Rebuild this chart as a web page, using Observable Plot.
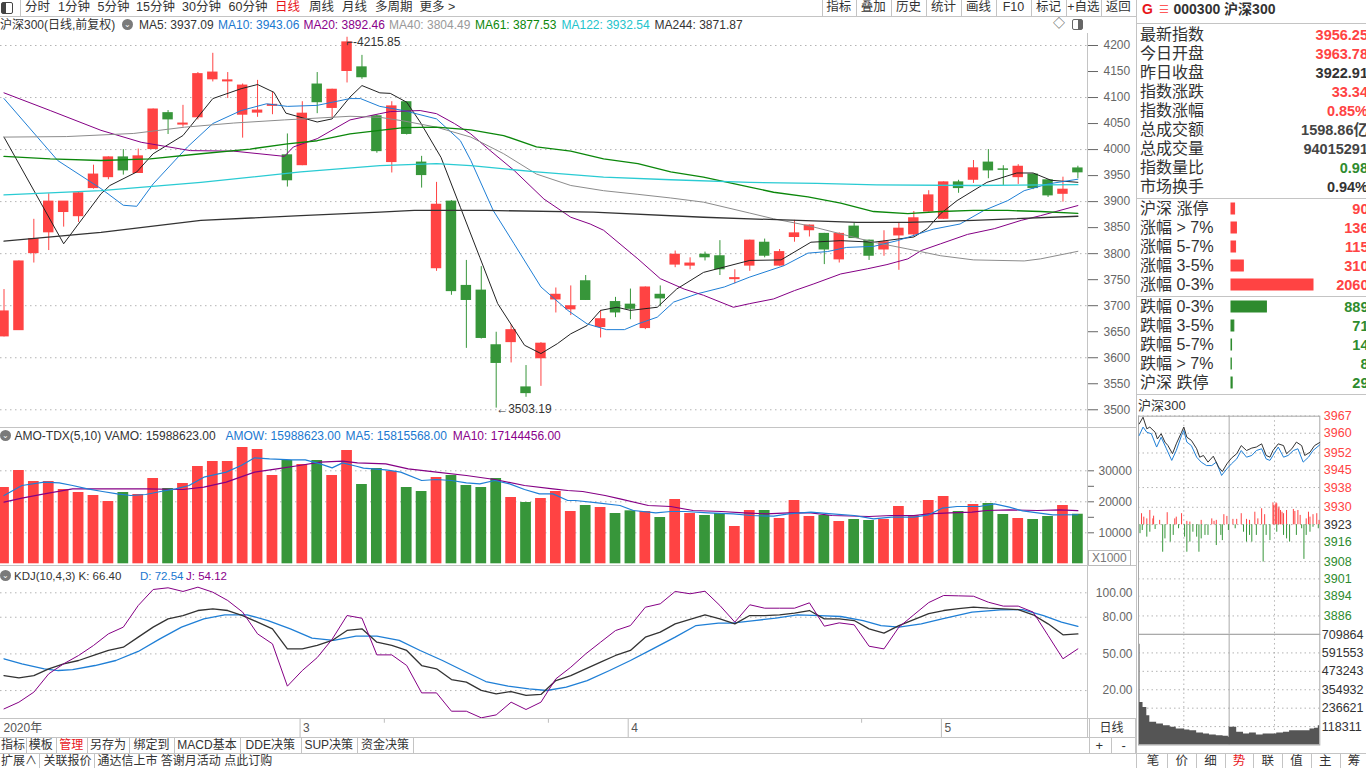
<!DOCTYPE html>
<html lang="zh-CN">
<head>
<meta charset="utf-8">
<title>沪深300 日线</title>
<script src="https://cdn.jsdelivr.net/npm/d3@7"></script>
<script src="https://cdn.jsdelivr.net/npm/@observablehq/plot@0.6"></script>
<style>
html,body{margin:0;padding:0;background:#fff;}
body{position:relative;width:1366px;height:768px;overflow:hidden;font-family:"Liberation Sans","Noto Sans CJK SC",Arial,sans-serif;color:#333;}
.t{position:absolute;white-space:nowrap;}
.ln{position:absolute;background:#c4c4c4;}
.pl{position:absolute;}
.pl svg{max-width:none !important;display:block;}
.ic{position:absolute;width:11px;height:11px;border-radius:50%;background:#7a7a7a;color:#fff;font-size:8px;line-height:11px;text-align:center;}
</style>
</head>
<body>
<script>
// ================= DATA =================
// daily candles, 2020-02-03 .. 2020-05-19 (index 0..72)
const open  = [3641,3653,3801,3841,3880,3872,3926,3947,3985,3955, 4001,4070,4048,4062,4135,4131,4067,4071,4084,3989, 3970,4125,4080,4151,4158,4064,3976,4091,3975,3772, 3900,3738,3729,3624,3630,3543,3599,3712,3693,3747, 3659,3707,3702,3657,3721,3779,3777,3798,3795,3751, 3777,3821,3777,3832,3845,3838,3789,3852,3825,3808, 3835,3837,3881,3867,3937,3942,3975,3962,3947,3952, 3941,3915,3963.78];
const close = [3689,3785,3828,3900,3900,3916,3952,3985,3960,3987, 4077,4058,4050,4145,4148,4133,4123,4075,4086,3941, 4069,4091,4115,4206,4139,3997,4083,4030,3951,3894, 3728,3711,3638,3590,3653,3532,3627,3721,3699,3711, 3674,3687,3694,3735,3714,3798,3781,3793,3770,3753, 3825,3796,3803,3839,3854,3808,3838,3830,3796,3822, 3848,3868,3912,3937,3926,3964,3960,3961,3967,3926, 3912,3922.91,3956.25];
const high  = [3731,3786,3866,3915,3900,3919,3970,3986,4000,4001, 4078,4075,4085,4148,4185,4148,4126,4133,4110,4030, 4092,4148,4116,4215.85,4181,4066,4092,4092,3987,3937, 3902,3787,3775,3649,3663,3585,3629,3734,3738,3758, 3691,3716,3732,3736,3738,3805,3792,3803,3825,3769, 3826,3828,3808,3864,3855,3839,3840,3859,3826,3844, 3860,3881,3921,3938,3941,3979,4000,3969,3971,3953, 3942,3947,3968];
const low   = [3640,3653,3782,3806,3851,3860,3924,3942,3951,3955, 4000,4029,4043,4057,4130,4098,4022,4062,4067,3928, 3969,4069,4060,4128,4135,3993,3955,4028,3926,3766, 3720,3618,3636,3503.19,3590,3524,3545,3686,3681,3710, 3638,3677,3673,3654,3698,3773,3769,3786,3758,3742, 3766,3792,3776,3822,3832,3779,3782,3829,3787,3795, 3768,3832,3880,3866,3916,3935,3944,3931,3933,3923, 3908,3899,3944];
// turnover (AMO, x1000)
const amount = [24613,30097,26548,26548,23968,23000,22032,20097,23000,22355, 27516,24290,25903,31387,33000,33000,37516,36871,28484,33323, 32032,33323,28484,36548,25581,30742,29774,24613,23323,27839, 28484,25258,24613,27516,21387,19774,21064,23323,16871,18806, 18161,16226,17086,16871,14935,20742,16226,15581,16226,12032, 17194,17194,14613,20419,15258,15581,13645,14290,13968,14290, 18484,15581,20419,21710,16871,19129,19452,15903,14613,14290, 15258,18806,15988.6];

// moving averages: [day index, value]
const ma5   = [[0,4024],[4,3819],[6.5,3915],[7.1,3931],[8.9,3957],[10,3992],[12,4027],[14,4098],[15.9,4117],[17,4125],[18.1,4110],[18.9,4070],[21,4053],[22,4059],[23.2,4101],[24,4123],[25.2,4109],[25.9,4108],[27,4091],[27.9,4053],[29.3,3985],[30.6,3889],[31.9,3793],[33.1,3704],[34.9,3624],[36,3608],[37.1,3627],[38,3646],[39.1,3662],[40,3691],[41.1,3697],[42,3691],[43.8,3697],[45.1,3732],[46.9,3764],[50,3787],[52.1,3788],[54.1,3822],[56.1,3825],[58.3,3822],[61,3832],[61.9,3848],[62.8,3877],[63.9,3902],[65.9,3937],[67.9,3955],[69,3955],[70.2,3941],[72,3937.09]];
const ma10  = [[0,4098],[3.6,3979],[6.5,3925],[8,3893],[8.9,3891],[10,3934],[12.3,4005],[14,4050],[15.9,4075],[17.6,4088],[19,4083],[21,4085],[23.2,4098],[23.9,4098],[25.2,4083],[26.8,4075],[29,4059],[30.6,4017],[31.3,3979],[32.8,3883],[34.2,3819],[36,3736],[37.8,3691],[39.1,3665],[40.4,3654],[41.6,3654],[42.5,3665],[43.8,3678],[44.9,3707],[46.5,3723],[48.3,3736],[50,3755],[52.3,3777],[53.9,3801],[55.2,3804],[56.5,3812],[58.3,3814],[59.9,3825],[62.3,3847],[64.1,3857],[65.7,3883],[67.3,3902],[68.4,3921],[70,3934],[72,3943.06]];
const ma20  = [[0,4109],[3.1,4075],[6.5,4037],[9.2,4014],[12.5,3998],[15.4,3997],[18.8,3987],[19.4,4005],[21,4021],[23.2,4057],[25.2,4069],[25.9,4073],[27.9,4075],[29,4069],[30.2,4050],[31.3,4030],[32.6,3998],[34.2,3960],[36.2,3905],[38,3870],[39.3,3857],[40.2,3845],[42.5,3790],[44,3752],[45.6,3732],[46.9,3720],[48.9,3697],[50,3704],[51.6,3713],[53,3729],[54.3,3742],[56.1,3761],[57.9,3771],[59.2,3779],[60.6,3790],[61.5,3806],[62.8,3819],[64.6,3837],[66.4,3848],[68.2,3864],[69.5,3873],[72,3892.46]];
const ma40  = [[0,4024],[4.2,4025],[8.7,4031],[12.1,4043],[15.4,4051],[18.8,4057],[23.2,4064],[25.2,4062],[26.8,4055],[29,4043],[31.3,4024],[33.5,3992],[35.7,3953],[38,3931],[40.2,3921],[42.5,3914],[44.7,3907],[46.9,3899],[50,3878],[51.6,3867],[53.9,3854],[56.1,3838],[58.3,3822],[60.6,3809],[62.8,3796],[65,3788],[68.4,3786],[69.5,3790],[72,3804.49]];
const ma61  = [[0,3987],[3.1,3982],[6.5,3979],[9.8,3982],[13.2,3992],[16.5,4001],[19,4011],[21,4017],[23.2,4030],[25.2,4037],[26.8,4042],[29,4043],[31.3,4038],[33.5,4027],[35.7,4005],[38,3997],[40.2,3982],[42.5,3973],[44.7,3957],[46.9,3947],[50,3928],[51.6,3918],[53.9,3909],[56.1,3897],[58.3,3881],[60.6,3877],[62.8,3881],[65,3883],[67.3,3883],[69.5,3881],[72,3877.53]];
const ma122 = [[0,3913],[6.5,3921],[13.2,3937],[19.9,3957],[25.2,3969],[29,3973],[31.3,3969],[35.7,3957],[40.2,3947],[44.7,3942],[50,3937],[54.5,3935],[58.5,3932],[65,3931],[72,3932.54]];
const ma244 = [[0,3824],[6.5,3841],[13.2,3864],[19.9,3873],[25.2,3880],[27.5,3883],[32.4,3883],[39.5,3880],[46.9,3870],[57.2,3860],[60.6,3860],[65,3864],[72,3871.87]];
const maNames = ["MA5","MA10","MA20","MA40","MA61","MA122","MA244"];
const maLast  = [3937.09,3943.06,3892.46,3804.49,3877.53,3932.54,3871.87];

// turnover averages: [day index, value]
const amoMa5  = [[0,22032],[1.2,25258],[2.7,26333],[3.7,26118],[4.6,25258],[5.6,24183],[6.6,23323],[7.6,22570],[8.5,22032],[9.5,22355],[10.5,23323],[11.5,24183],[12.4,25258],[13.4,27946],[14.9,29559],[15.9,31710],[16.8,34183],[17.8,33860],[19.3,33538],[20.2,33538],[21.2,32247],[22,30957],[22.7,32570],[23.7,31387],[24.1,30849],[25.6,30312],[26.6,29559],[28,26871],[29,27194],[30,26871],[31,26118],[31.9,25796],[32.9,26871],[33.9,25796],[34.9,23968],[35.9,22570],[36.8,22570],[37.8,20419],[38.3,20419],[39.8,19667],[41.3,18806],[42.2,17194],[43.7,16441],[44.7,16871],[45.7,16871],[47.2,16441],[48.9,16118],[50.1,15581],[51.6,15366],[52.6,16118],[54.1,16656],[55.5,16118],[57,15581],[58.3,14505],[59.5,15043],[61,15043],[62,15796],[62.9,17946],[63.9,18484],[65.4,18484],[66.4,19344],[67.4,18269],[68.3,17086],[69.3,16441],[70.3,15796],[72,15815.6]];
const amoMa10 = [[0,19882],[1.2,21172],[2.7,22570],[4.6,24183],[7.1,24183],[9.5,24183],[12,23968],[13.4,24720],[14.9,26333],[16.8,29559],[18.3,30634],[19.8,31710],[21.2,32785],[22.7,33108],[23.7,32570],[25.6,32247],[27.1,30634],[29,29559],[31,28484],[32.9,27194],[34.9,25258],[36.8,24183],[37.8,23645],[38.8,23323],[40.3,22032],[41.3,20957],[43.2,18806],[44.7,18484],[46.2,17194],[48.1,16871],[49.6,16441],[51.1,16118],[52.6,16441],[54.1,16441],[55.5,15581],[58,15258],[59.5,15581],[61,15581],[62,16118],[63.4,16441],[64.9,16656],[65.9,17194],[67.4,17409],[69.3,17194],[70.8,17409],[72,17144.5]];

// KDJ(10,4,3)
const kdjK = [32.3,30.4,32.3,37.8,41.9,44.6,48.7,52.8,55.5,63.7, 71.9,78.7,81.4,85.5,86.9,85.5,81.4,76.0,70.5,54.1, 54.1,57.0,61.0,69.2,70.5,59.6,56.9,52.8,40.5,37.8, 29.0,26.9,20.1,17.3,19.2,16.0,16.8,28.2,32.3,37.8, 43.2,48.7,52.8,63.7,67.8,74.6,78.2,82.0,78.7,74.6, 81.4,81.4,82.0,83.3,85.5,78.7,78.7,77.3,70.5,67.0, 73.2,78.0,83.0,85.5,87.0,88.2,87.4,86.9,86.3,82.0, 74.6,65.6,66.40];
const kdjJ = [5.0,10.5,18.7,33.7,41.9,48.7,56.9,66.4,71.9,89.6, 102.7,104.1,101.1,104.6,100.5,93.7,84.2,66.4,58.2,23.6, 36.4,47.0,62.0,81.4,79.2,49.2,49.2,40.5,18.1,18.1, 3.1,3.1,-2.3,0.1,10.5,4.5,10.5,29.6,39.1,50.0, 59.6,69.1,73.2,88.2,91.0,101.1,99.2,101.3,89.6,76.0, 90.2,87.4,87.4,87.4,91.8,72.7,75.4,73.8,56.3,54.1, 71.9,82.0,92.0,97.8,97.5,97.2,92.3,89.1,89.1,84.2, 65.1,46.0,54.12];
const kdjD = [[0,46.0],[1.2,41.9],[2.7,37.8],[3.65,36.4],[4.6,37.2],[6.1,40.5],[7.5,44.6],[9,52.0],[10.45,62.3],[11.9,71.9],[13.4,78.7],[14.8,82.0],[16.3,82.0],[17.7,77.3],[19.2,70.5],[20.65,62.9],[22.1,61.0],[23.6,64.5],[25,64.5],[26.5,61.0],[27.9,52.8],[29.4,44.6],[30.9,35.6],[32.3,27.4],[33.8,23.6],[35.2,21.4],[36.4,20.05],[37.7,22.8],[39.1,28.2],[40.6,36.4],[42,44.6],[43.5,54.1],[45,63.7],[46.4,73.2],[47.9,75.15],[48.8,75.15],[50.3,77.3],[51.75,79.2],[53.2,82.0],[54.7,81.4],[56.1,80.6],[57.6,77.3],[58.8,73.2],[60,71.9],[61.5,74.6],[62.9,78.7],[64.9,84.15],[66.8,86.1],[68.3,86.3],[69.7,81.4],[70.9,76.0],[72,72.54]];

// axis ticks
const priceTicks = [3500,3550,3600,3650,3700,3750,3800,3850,3900,3950,4000,4050,4100,4150,4200];
const priceGrid  = [3500,3600,3700,3800,3900,4000,4100,4200];
const amoTicks   = [10000,15000,20000,25000,30000];
const amoLabels  = [10000,20000,30000];
const kdjTicks   = [20,50,80,100];
const monthTickIndex = [0,20,42,63];
const monthTickLabel = ["2020年","3","4","5"];

// quote panel
const quoteLabels = ["最新指数","今日开盘","昨日收盘","指数涨跌","指数涨幅","总成交额","总成交量","指数量比","市场换手"];
const quoteValues = ["3956.25","3963.78","3922.91","33.34","0.85%","1598.86亿","94015291","0.98","0.94%"];
const upLabels   = ["沪深 涨停","涨幅 > 7%","涨幅 5-7%","涨幅 3-5%","涨幅 0-3%"];
const upCounts   = [90,136,115,310,2060];
const downLabels = ["跌幅 0-3%","跌幅 3-5%","跌幅 5-7%","跌幅 > 7%","沪深 跌停"];
const downCounts = [889,71,14,8,29];

// intraday (minutes 0..240)
const prevClose = 3922.91;
const idxMin   = [1,6,11,15,22,25,30,35,39,45,50,57,60,64,70,77,81,86,92,99,106,111,117,123,130,136,143,150,156,163,169,174,178,185,192,196,203,209,216,220,227,233,240];
const idxPrice = [3963.8,3966.5,3961.8,3962.5,3960.4,3957.7,3959.8,3956.4,3955.0,3951.7,3955.7,3960.4,3962.5,3958.4,3957.1,3953.7,3950.3,3951.0,3948.3,3950.7,3946.3,3944.5,3947.6,3949.9,3951.7,3955.0,3953.0,3954.0,3954.4,3955.7,3951.0,3950.3,3953.0,3955.7,3955.0,3951.7,3953.7,3956.4,3955.0,3951.0,3952.3,3955.0,3956.25];
const eqMin    = [1,6,11,17,24,30,37,44,50,57,60,64,70,77,83,90,97,103,110,117,123,130,136,143,150,156,163,169,174,178,185,192,198,205,211,218,225,231,240];
const eqPrice  = [3959.1,3962.5,3960.4,3959.8,3954.4,3958.4,3953.7,3949.0,3953.0,3959.1,3961.1,3956.4,3955.0,3950.3,3948.3,3946.9,3946.9,3948.3,3942.9,3945.6,3947.6,3949.6,3953.0,3950.3,3951.0,3953.0,3953.7,3949.6,3949.0,3951.0,3954.4,3950.3,3951.0,3953.0,3953.7,3948.3,3950.3,3953.0,3955.3];
const upMin   = [4,7,11,15,19,20,28,38,48,50,57,64,68,83,97,100,103,113,117,125,130,136,143,147,154,158,163,167,178,179,181,182,183,185,186,188,190,192,196,205,207,211,214,222,225,227,231,236,239];
const upVal   = [4.5,3.1,2.4,5.8,2.4,3.5,1.8,4.9,2.4,3.1,4.5,1.4,1.1,1.8,2.4,1.4,1.8,4.1,3.4,2.2,2.2,4.5,2.2,1.8,5.1,2.4,6.5,4.1,8.9,7.8,8.1,8.9,8.5,6.5,7.2,5.8,5.1,4.5,5.8,6.2,5.4,5.8,3.8,2.4,5.1,3.1,4.1,4.5,1.8];
const downMin = [2,5,11,15,22,32,35,42,46,53,61,64,68,72,77,80,83,88,92,103,109,111,119,128,139,143,147,150,156,165,169,174,183,192,196,200,209,216,219,222,227,231,238];
const downVal = [-3.6,-2.3,-5.0,-3.0,-1.9,-11.1,-5.7,-7.0,-4.3,-1.6,-5.0,-11.1,-7.0,-3.0,-5.0,-11.1,-5.7,-4.3,-4.3,-8.4,-4.3,-6.4,-2.3,-1.6,-3.0,-7.0,-4.3,-7.0,-4.3,-15.1,-4.3,-6.4,-3.0,-4.3,-5.7,-7.0,-4.3,-1.6,-14.0,-4.3,-3.0,-1.0,-1.6];
const volMin  = [1,2,6,11,15,24,33,42,50,59,61,68,77,86,94,103,112,119,120,130,139,147,156,165,174,183,192,200,209,218,227,233,238,240];
const volVal  = [647800,273700,241600,188100,145400,134700,124000,113300,102600,102600,96200,91900,77000,70600,64100,59900,55600,49200,113300,81200,70600,77000,64100,70600,70600,77000,81200,91900,91900,91900,102600,106900,124000,220200];
const miniPriceTicks = [3967,3960,3952,3945,3938,3930,3923,3916,3908,3901,3894,3886];
const miniVolTicks   = [709864,591553,473243,354932,236621,118311];

// ================= LAYOUT HELPERS =================
const RED = "#ff4343", GREEN = "#37963a", BLUE = "#1f7fd6", PURPLE = "#850085";
function T(x, y, s, o = {}) {
  const d = document.createElement("div");
  d.className = "t";
  d.textContent = s;
  const fs = o.fs || 12;
  const lh = o.lh || Math.round(fs * 1.3);
  let css = `top:${y - lh / 2}px;height:${lh}px;line-height:${lh}px;font-size:${fs}px;color:${o.c || "#333"};`;
  if (o.right) css += `right:${1366 - x}px;`;
  else if (o.center) css += `left:${x - 40}px;width:80px;text-align:center;`;
  else css += `left:${x}px;`;
  if (o.b) css += "font-weight:bold;";
  if (o.f) css += `font-family:${o.f};`;
  if (o.ls) css += `letter-spacing:${o.ls}px;`;
  d.style.cssText += css;
  document.body.append(d);
  return d;
}
function L(x, y, w, h, c) {
  const d = document.createElement("div");
  d.className = "ln";
  d.style.cssText = `left:${x}px;top:${y}px;width:${w}px;height:${h}px;` + (c ? `background:${c};` : "");
  document.body.append(d);
}
function mount(svg, left, top) {
  const d = document.createElement("div");
  d.className = "pl";
  d.style.left = left + "px";
  d.style.top = top + "px";
  d.append(svg);
  document.body.append(d);
}
function icon(x, y) {
  const d = document.createElement("div");
  d.className = "ic";
  d.style.left = x + "px";
  d.style.top = (y - 5.5) + "px";
  d.textContent = "⌄";
  document.body.append(d);
}
const baseStyle = {background: "transparent", color: "#666", fontSize: "12px", fontFamily: "Liberation Sans, Arial, sans-serif", overflow: "visible"};
const grid = {stroke: "#b4b4b4", strokeOpacity: 1, strokeDasharray: "1.5,3.5"};

// ================= DERIVED TABLES =================
const candles = open.map((o, i) => ({i, o, c: close[i], h: high[i], l: low[i], v: amount[i]}));
const col = d => d.c >= d.o ? RED : GREEN;
const xDomain = [-0.2347, 72.645];
const W = 1136, MR = 49;

// ================= MAIN CANDLE CHART =================
const maColors = ["#222", BLUE, PURPLE, "#8c8c8c", "#0b870b", "#2acbd3", "#333"];
const maData = [ma5, ma10, ma20, ma40, ma61, ma122, ma244];
const mainPlot = Plot.plot({
  width: W, height: 394, marginLeft: 0, marginRight: MR, marginTop: 0, marginBottom: 0,
  x: {domain: xDomain, axis: null},
  y: {domain: [3465.95, 4223.06], axis: null},
  style: baseStyle,
  marks: [
    Plot.ruleY(priceGrid, grid),
    Plot.axisY(priceTicks, {anchor: "right", label: null, tickSize: 10, tickPadding: 6, tickFormat: d => String(d), fontSize: 12}),
    Plot.ruleX(candles, {x: "i", y1: "l", y2: "h", stroke: col, strokeWidth: 1}),
    Plot.rect(candles, {x1: d => d.i - 0.35, x2: d => d.i + 0.35, y1: "o", y2: "c", fill: col, insetTop: -0.5, insetBottom: -0.5}),
    ...maData.map((s, k) => Plot.line(s, {x: d => d[0], y: d => d[1], stroke: maColors[k], strokeWidth: k >= 4 ? 1.3 : 1})),
    Plot.text([{i: 23, p: high[23]}], {x: "i", y: "p", text: d => "⌐-" + d.p.toFixed(2), textAnchor: "start", dx: -1, dy: 5, fill: "#333", fontSize: 12}),
    Plot.text([{i: 33, p: low[33]}], {x: "i", y: "p", text: d => "←" + d.p.toFixed(2), textAnchor: "start", dx: 0, dy: 1, fill: "#333", fontSize: 12})
  ]
});
mount(mainPlot, 0, 33);

// ================= TURNOVER PANEL =================
const amoPlot = Plot.plot({
  width: W, height: 138, marginLeft: 0, marginRight: MR, marginTop: 0, marginBottom: 0,
  x: {domain: xDomain, axis: null},
  y: {domain: [-548, 43968], axis: null},
  style: baseStyle,
  marks: [
    Plot.ruleY(amoLabels, grid),
    Plot.axisY(amoTicks, {anchor: "right", label: null, tickSize: 6, tickPadding: 5, tickFormat: d => amoLabels.includes(d) ? String(d) : "", fontSize: 12}),
    Plot.rect(candles, {x1: d => d.i - 0.36, x2: d => d.i + 0.36, y1: 0, y2: "v", fill: col}),
    Plot.line(amoMa10, {x: d => d[0], y: d => d[1], stroke: PURPLE, strokeWidth: 1.2}),
    Plot.line(amoMa5, {x: d => d[0], y: d => d[1], stroke: BLUE, strokeWidth: 1.2})
  ]
});
mount(amoPlot, 0, 427);

// ================= KDJ PANEL =================
const kdjPlot = Plot.plot({
  width: W, height: 153, marginLeft: 0, marginRight: MR, marginTop: 0, marginBottom: 0,
  x: {domain: xDomain, axis: null},
  y: {domain: [-2.86, 122.34], axis: null},
  style: baseStyle,
  marks: [
    Plot.ruleY(kdjTicks, grid),
    Plot.axisY(kdjTicks, {anchor: "right", label: null, tickSize: 0, tickPadding: 45, textAnchor: "end", tickFormat: d => d.toFixed(2), fontSize: 12}),
    Plot.line(kdjD, {x: d => d[0], y: d => d[1], stroke: BLUE, strokeWidth: 1.3}),
    Plot.line(kdjK, {x: (d, i) => i, y: d => d, stroke: "#333", strokeWidth: 1.3}),
    Plot.line(kdjJ, {x: (d, i) => i, y: d => d, stroke: PURPLE, strokeWidth: 1})
  ]
});
mount(kdjPlot, 0, 565);

// ================= DATE ROW =================
const monthRows = monthTickIndex.map((i, k) => ({i, t: monthTickLabel[k]}));
const datePlot = Plot.plot({
  width: W, height: 19, marginLeft: 0, marginRight: MR, marginTop: 0, marginBottom: 0,
  x: {domain: xDomain, axis: null},
  y: {domain: [0, 1], axis: null},
  style: baseStyle,
  marks: [
    Plot.ruleX(monthRows.slice(1), {x: d => d.i - 0.15, stroke: "#bdbdbd"}),
    Plot.ruleX([25.5, 36.5, 57.5], {x: d => d, y1: 0.75, y2: 1, stroke: "#bdbdbd"}),
    Plot.text(monthRows, {x: d => d.i === 0 ? xDomain[0] : d.i - 0.15, y: 0.5, text: "t", textAnchor: "start", dx: 3, fill: "#555", fontSize: 12, fontFamily: "Liberation Sans, Noto Sans CJK SC, sans-serif"})
  ]
});
mount(datePlot, 0, 718);

// ================= FRAME LINES =================
L(0, 16, 1136, 1);
L(0, 427, 1136, 1);
L(0, 565, 1136, 1);
L(0, 718, 1136, 1);
L(0, 737, 1136, 1);
L(0, 753, 1366, 1);
L(1087, 33, 1, 704);
L(1136, 0, 1, 768);

// ================= TOP TOOLBAR =================
(function () {
  const box = document.createElement("div");
  box.style.cssText = "position:absolute;left:1px;top:2px;width:10px;height:10px;border:1px solid #444;border-radius:2px;";
  const fill = document.createElement("div");
  fill.style.cssText = "position:absolute;left:0;top:0;width:4px;height:10px;background:#444;";
  box.append(fill);
  document.body.append(box);
})();
L(19.5, 0, 1, 16);
[["分时", 25], ["1分钟", 58], ["5分钟", 97.5], ["15分钟", 136], ["30分钟", 182], ["60分钟", 228.5], ["日线", 275], ["周线", 309], ["月线", 342], ["多周期", 375], ["更多 >", 419.5]]
  .forEach(([s, x]) => T(x, 7.5, s, {fs: 12.5, lh: 15, c: s === "日线" ? "#e8151b" : "#333"}));
const btnEdges = [822, 855.7, 891, 925.8, 961, 996, 1031, 1066, 1100.7, 1136];
["指标", "叠加", "历史", "统计", "画线", "F10", "标记", "+自选", "返回"].forEach((s, k) => {
  const d = T((btnEdges[k] + btnEdges[k + 1]) / 2, 7.5, s, {fs: 12.5, lh: 15, center: true});
  d.style.left = (btnEdges[k] + 1) + "px";
  d.style.width = (btnEdges[k + 1] - btnEdges[k] - 2) + "px";
  L(btnEdges[k], 0, 1, 16);
});

// ================= INDICATOR HEADERS =================
T(0, 24.5, "沪深300(日线,前复权)", {fs: 12, lh: 14});
icon(122, 24.5);
const maX = [139, 218, 303.5, 389, 475, 561.5, 654.5];
const maTextColors = ["#333", "#1a78d0", "#8a008a", "#999", "#0b870b", "#22c3cc", "#333"];
maNames.forEach((n, k) => T(maX[k], 24.5, `${n}: ${maLast[k].toFixed(2)}`, {lh: 14, c: maTextColors[k]}));
T(1053, 24, "◇", {fs: 12, lh: 14, c: "#555"});
(function () {
  const b = document.createElement("div");
  b.style.cssText = "position:absolute;left:1072px;top:19px;width:9px;height:9px;border:1px solid #666;border-radius:2px;";
  const f = document.createElement("div");
  f.style.cssText = "position:absolute;right:0;top:0;width:4px;height:9px;background:#666;";
  b.append(f);
  document.body.append(b);
})();

icon(0, 435.5);
T(14.5, 435.5, "AMO-TDX(5,10) VAMO: 15988623.00", {lh: 14});
T(225.5, 435.5, "AMOW: 15988623.00", {lh: 14, c: "#1a78d0"});
T(345.5, 435.5, "MA5: 15815568.00", {lh: 14, c: "#1a78d0"});
T(452.7, 435.5, "MA10: 17144456.00", {lh: 14, c: "#8a008a"});
(function () {
  const b = document.createElement("div");
  b.className = "t";
  b.textContent = "X1000";
  b.style.cssText += "left:1088px;top:550px;height:14px;line-height:14px;font-size:12px;color:#777;border:1px solid #bbb;padding:0 3px;background:#fff;";
  document.body.append(b);
})();

icon(0, 575.5);
T(14, 575.5, "KDJ(10,4,3) K: 66.40", {fs: 11.5, lh: 14});
T(140, 575.5, "D: 72.54", {fs: 11.5, lh: 14, c: "#1a78d0"});
T(186, 575.5, "J: 54.12", {fs: 11.5, lh: 14, c: "#8a008a"});

// date row right
T(1111.5, 728, "日线", {fs: 12, lh: 15, center: true});
L(1089, 718, 1, 35); L(1135, 718, 1, 35);
const plus = T(1099.5, 745, "+", {fs: 13, lh: 15});
plus.style.left = "1095.5px";
const minus = T(1124, 745, "-", {fs: 13, lh: 15});
minus.style.left = "1121.5px";
L(1111, 737, 1, 16);

// bottom tabs
const tabEdges = [0, 26, 55.7, 87, 129, 174, 240, 300.5, 357, 413];
["指标", "模板", "管理", "另存为", "绑定到", "MACD基本", "DDE决策", "SUP决策", "资金决策"].forEach((s, k) => {
  const d = T(0, 745, s, {fs: 12, lh: 15, center: true, c: s === "管理" ? "#e8151b" : "#333"});
  d.style.left = tabEdges[k] + "px";
  d.style.width = (tabEdges[k + 1] - tabEdges[k]) + "px";
  L(tabEdges[k + 1], 737, 1, 16);
});
T(1, 761, "扩展∧", {fs: 12, lh: 14});
L(39, 754, 1, 14);
T(43.5, 761, "关联报价", {fs: 12, lh: 14});
L(94, 754, 1, 14);
T(97.5, 761, "通达信上市 答谢月活动 点此订购", {fs: 12, lh: 14});

// ================= RIGHT PANEL =================
T(1142, 9.5, "G", {fs: 14, lh: 17, b: true, c: "#e8151b"});
T(1159, 9.5, "☰", {fs: 11, lh: 17, c: "#ff5a5a"});
T(1173.5, 9.5, "000300 沪深300", {fs: 14, lh: 17, b: true, c: "#333"});
L(1137, 23, 229, 1);
const quoteColors = [RED, RED, "#333", RED, RED, "#444", "#444", "#2e8b2e", "#333"];
quoteLabels.forEach((s, k) => {
  const y = 35 + k * 19;
  T(1140, y, s, {fs: 16, lh: 18});
  T(1368, y, quoteValues[k], {fs: 14.5, lh: 17, b: true, right: true, c: quoteColors[k]});
});
L(1137, 198, 229, 1);
L(1137, 295.5, 229, 1);
L(1137, 394, 229, 1);

function distPlot(labels, values, color) {
  const rows = labels.map((l, k) => ({l, v: values[k]}));
  return Plot.plot({
    width: 230, height: 95, marginLeft: 0, marginRight: 0, marginTop: 0, marginBottom: 0,
    x: {domain: [0, 2060], range: [95, 177], axis: null},
    y: {domain: labels, axis: null, padding: 0},
    style: baseStyle,
    marks: [
      Plot.barX(rows, {x: "v", y: "l", fill: color, stroke: color, strokeWidth: 1, insetTop: 4, insetBottom: 4}),
      Plot.text(rows, {y: "l", text: d => String(d.v), frameAnchor: "right", dx: 2, textAnchor: "end", fontSize: 14.5, fontWeight: "bold", fill: color})
    ]
  });
}
mount(distPlot(upLabels, upCounts, RED), 1136, 199);
mount(distPlot(downLabels, downCounts, "#2e8b2e"), 1136, 297);
upLabels.forEach((s, k) => T(1140, 208.5 + k * 19, s, {fs: 16, lh: 18}));
downLabels.forEach((s, k) => T(1140, 306.5 + k * 19, s, {fs: 16, lh: 18}));

// ================= INTRADAY MINI CHART =================
T(1138, 405.5, "沪深300", {fs: 13, lh: 16});
const idxLine = idxMin.map((m, k) => ({m, p: idxPrice[k]}));
const eqLine = eqMin.map((m, k) => ({m, p: eqPrice[k]}));
const ups = upMin.map((m, k) => ({m, v: upVal[k]}));
const downs = downMin.map((m, k) => ({m, v: downVal[k]}));
const tickColor = d => d > 3923 ? RED : d < 3923 ? "#2e8b2e" : "#333";
const miniPrice = Plot.plot({
  width: 230, height: 239, marginLeft: 2, marginRight: 46.7, marginTop: 20.7, marginBottom: 0.3,
  x: {domain: [0, 240], axis: null},
  y: {domain: [3878.6, 3966.9], axis: null},
  style: baseStyle,
  marks: [
    Plot.ruleY(miniPriceTicks, {stroke: "#b4b4b4", strokeDasharray: "1.5,3"}),
    Plot.ruleX([60, 180], {stroke: "#b4b4b4", strokeDasharray: "1.5,3"}),
    Plot.ruleX([120], {stroke: "#aaa"}),
    Plot.frame({stroke: "#aaa"}),
    Plot.ruleX(ups, {x: "m", y1: prevClose, y2: d => prevClose + d.v, stroke: RED}),
    Plot.ruleX(downs, {x: "m", y1: prevClose, y2: d => prevClose + d.v, stroke: GREEN}),
    Plot.line(eqLine, {x: "m", y: "p", stroke: BLUE, strokeWidth: 1}),
    Plot.line(idxLine, {x: "m", y: "p", stroke: "#333", strokeWidth: 1}),
    Plot.text(miniPriceTicks, {y: d => d, text: d => String(d), frameAnchor: "right", dx: 4, textAnchor: "start", fill: tickColor, fontSize: 12.5})
  ]
});
mount(miniPrice, 1136, 395);
const miniVol = Plot.plot({
  width: 230, height: 111, marginLeft: 2, marginRight: 46.7, marginTop: 0, marginBottom: 0.5,
  x: {domain: [0, 240], axis: null},
  y: {domain: [0, 709864], axis: null},
  style: baseStyle,
  marks: [
    Plot.ruleY(miniVolTicks, {stroke: "#b4b4b4", strokeDasharray: "1.5,3"}),
    Plot.ruleX([60, 180], {stroke: "#b4b4b4", strokeDasharray: "1.5,3"}),
    Plot.ruleX([120], {stroke: "#aaa"}),
    Plot.areaY(volMin.map((m, k) => ({m, v: volVal[k]})), {x: "m", y: "v", fill: "#555", curve: "step-after"}),
    Plot.frame({stroke: "#aaa"}),
    Plot.text(miniVolTicks, {y: d => d, text: d => String(d), frameAnchor: "right", dx: 2, textAnchor: "start", fill: "#333", fontSize: 12.5})
  ]
});
mount(miniVol, 1136, 634);

// bottom-right tabs
const rtabs = ["笔", "价", "细", "势", "联", "值", "主", "筹"];
rtabs.forEach((s, k) => {
  const cx = 1153 + k * 28.7;
  const d = T(cx, 761, s, {fs: 12.5, lh: 14, center: true, c: s === "势" ? "#e8151b" : "#333"});
  d.style.left = (cx - 13) + "px";
  d.style.width = "26px";
  L(cx + 14.3, 754, 1, 14);
});
</script>
</body>
</html>
